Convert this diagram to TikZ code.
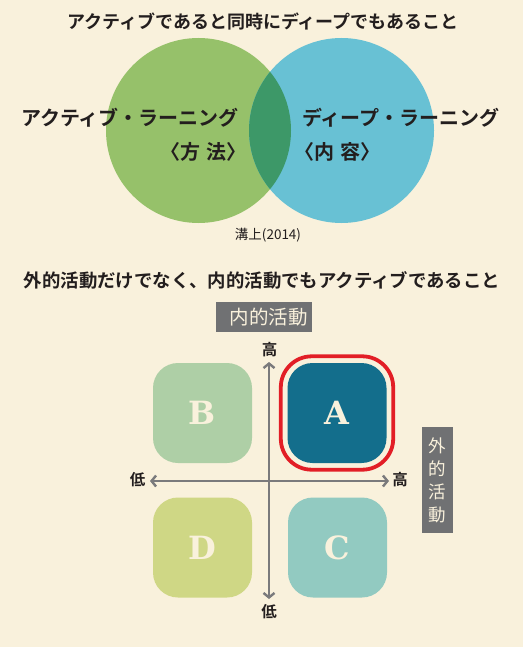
\documentclass[tikz,border=0pt]{standalone}
\usepackage{fontspec}
\usetikzlibrary{arrows.meta,fit}
\newfontfamily\jp{Noto Sans CJK JP}
\newfontfamily\jpb{Noto Sans CJK JP Bold}
\newfontfamily\slab{DejaVu Serif Bold}
\definecolor{bgcream}{RGB}{249,241,220}
\definecolor{vgreen}{RGB}{150,193,106}
\definecolor{vblue}{RGB}{104,193,212}
\definecolor{voverlap}{RGB}{61,152,104}
\definecolor{labgray}{RGB}{112,113,115}
\definecolor{axgray}{RGB}{122,122,124}
\definecolor{txtdark}{RGB}{35,30,30}
\definecolor{boxA}{RGB}{19,110,140}
\definecolor{boxB}{RGB}{174,207,166}
\definecolor{boxC}{RGB}{146,202,193}
\definecolor{boxD}{RGB}{207,215,133}
\definecolor{redring}{RGB}{226,30,38}
\tikzset{
  titletxt/.style={font=\jpb\fontsize{18}{20}\selectfont, text=txtdark, inner sep=0pt},
  venntxt/.style={font=\jpb\fontsize{20}{24}\selectfont, text=txtdark, inner sep=0pt},
  graylab/.style={fill=labgray, text=bgcream, inner sep=0pt},
  quad/.style={rounded corners=25pt, minimum width=99pt, minimum height=100pt, inner sep=0pt,
     text=bgcream, font=\slab\fontsize{32}{32}\selectfont},
  axtxt/.style={font=\jpb\fontsize{15.5}{17}\selectfont, text=txtdark, inner sep=0pt},
  axis/.style={draw=axgray, line width=2.6pt, {Straight Barb[length=4.5pt,width=11pt,line width=2.4pt]}-{Straight Barb[length=4.5pt,width=11pt,line width=2.4pt]}}
}
\begin{document}
\begin{tikzpicture}[x=1pt,y=-1pt]
\fill[bgcream] (0,0) rectangle (523,647);
\useasboundingbox (0,0) rectangle (523,647);
% title 1
\node[titletxt] (t1) at (263,22) {アクティブであると同時にディープでもあること};
% Venn
\fill[vgreen] (198.5,130.5) circle (92.5);
\fill[vblue] (341.5,130.5) circle (92.5);
\begin{scope}
  \clip (198.5,130.5) circle (92.5);
  \fill[voverlap] (341.5,130.5) circle (92.5);
\end{scope}
\node[venntxt, anchor=east] (al) at (239,118) {アクティブ・ラーニング};
\node[venntxt, anchor=east] (alm) at (247,152) {〈方\hspace{6pt}法〉};
\node[venntxt, anchor=west] (dl) at (302,118) {ディープ・ラーニング};
\node[venntxt, anchor=west] (dlm) at (294,152) {〈内\hspace{6pt}容〉};
\node[font=\jp\fontsize{13.5}{15}\selectfont, text=txtdark, inner sep=0pt] (src) at (268,235) {溝上(2014)};
% title 2
\node[titletxt, font=\jpb\fontsize{18.4}{20}\selectfont] (t2) at (262,280) {外的活動だけでなく、内的活動でもアクティブであること};
% gray labels
\node[graylab, minimum width=96pt, minimum height=30pt, font=\jp\fontsize{19.5}{21}\selectfont] (inner) at (264,317) {\hspace{9pt}内的活動};
\node[graylab, minimum width=31pt, minimum height=106pt, align=center,
      font=\jp\fontsize{17.5}{23}\selectfont] (outer) at (437.5,480) {外\\的\\活\\動};
% quadrants
\node[quad, fill=boxA] (A) at (337,413) {A};
\node[quad, fill=boxB] (B) at (202.5,413) {B};
\node[quad, fill=boxC] (C) at (337.5,547.5) {C};
\node[quad, fill=boxD] (D) at (202.5,547.5) {D};
\node[draw=redring, line width=3.8pt, rounded corners=31pt, fit=(A), inner sep=6.5pt] (ring) {};
% axes
\coordinate (xl) at (150,481);
\coordinate (xr) at (389,481);
\coordinate (yt) at (269,362);
\coordinate (yb) at (269,599);
\draw[axis] (xl) -- (xr);
\draw[axis] (yb) -- (yt);
\node[axtxt] (yhi) at (269.5,350) {高};
\node[axtxt] (ylo) at (269,612) {低};
\node[axtxt] (xlo) at (137.5,480) {低};
\node[axtxt] (xhi) at (400,480) {高};
\end{tikzpicture}
\end{document}
